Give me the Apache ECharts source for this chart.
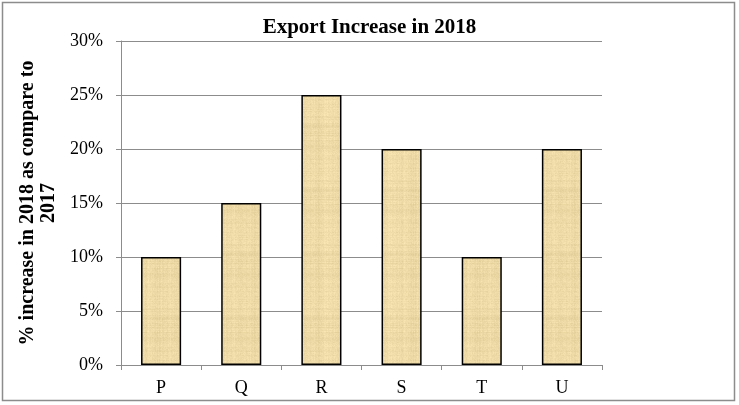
<!DOCTYPE html>
<html><head><meta charset="utf-8">
<script src="https://cdn.jsdelivr.net/npm/echarts@6/dist/echarts.min.js"></script>
<style>html,body{margin:0;padding:0;background:#fff}#c{width:739px;height:405px}</style>
</head><body><div id="c"></div>
<script>
const titleText = 'Export Increase in 2018';
const categories = ['P', 'Q', 'R', 'S', 'T', 'U'];
const values = [10, 15, 25, 20, 10, 20];
const yTicks = [0, 5, 10, 15, 20, 25, 30];
const yAxisName = '% increase in 2018 as compare to\n2017';

// parchment-like texture (deterministic)
function makeTexture() {
  const w = 64, h = 64;
  const cv = document.createElement('canvas');
  cv.width = w; cv.height = h;
  const ctx = cv.getContext('2d');
  const img = ctx.createImageData(w, h);
  function hash(x, y) {
    let n = x * 374761393 + y * 668265263;
    n = (n ^ (n >>> 13)) * 1274126177;
    n = n ^ (n >>> 16);
    return ((n >>> 0) % 1000) / 1000;
  }
  for (let y = 0; y < h; y++) {
    const rowV = hash(7, y) * 0.6 + hash(3, y >> 2) * 0.4;
    for (let x = 0; x < w; x++) {
      const colV = hash(x, 11) * 0.5 + hash(x >> 2, 5) * 0.5;
      const px = hash(x, y);
      const v = (rowV - 0.5) * 12 + (colV - 0.5) * 12 + (px - 0.5) * 10;
      const i = (y * w + x) * 4;
      img.data[i] = Math.max(0, Math.min(255, 237 + v));
      img.data[i + 1] = Math.max(0, Math.min(255, 217 + v));
      img.data[i + 2] = Math.max(0, Math.min(255, 165 + v * 1.1));
      img.data[i + 3] = 255;
    }
  }
  ctx.putImageData(img, 0, 0);
  return cv;
}

const serif = "'Liberation Serif', 'DejaVu Serif', serif";
const chart = echarts.init(document.getElementById('c'), null, { renderer: 'canvas' });
chart.setOption({
  animation: false,
  backgroundColor: '#fff',
  title: {
    text: titleText, left: 'center', top: 12,
    textStyle: { fontFamily: serif, fontWeight: 'bold', fontSize: 21, color: '#000' }
  },
  graphic: [{
    type: 'rect', shape: { x: 2.5, y: 2.5, width: 732, height: 398 },
    style: { fill: 'none', stroke: '#8c8c8c', lineWidth: 1.5 }, z: -1
  }],
  grid: { left: 121, right: 137, top: 41, bottom: 40 },
  xAxis: {
    type: 'category', data: categories,
    axisLine: { lineStyle: { color: '#8c8c8c', width: 1 } },
    axisTick: { show: true, length: 5, lineStyle: { color: '#8c8c8c' } },
    axisLabel: { fontFamily: serif, fontSize: 18, color: '#000', margin: 14 }
  },
  yAxis: {
    type: 'value', min: yTicks[0], max: yTicks[yTicks.length - 1], interval: 5,
    name: yAxisName, nameLocation: 'middle', nameGap: 56, nameRotate: 90,
    nameTextStyle: { fontFamily: serif, fontWeight: 'bold', fontSize: 20, color: '#000', lineHeight: 21, align: 'center' },
    axisLine: { show: true, lineStyle: { color: '#8c8c8c' } },
    axisTick: { show: true, length: 5, lineStyle: { color: '#8c8c8c' } },
    splitLine: { lineStyle: { color: '#8c8c8c', width: 1 } },
    axisLabel: { fontFamily: serif, fontSize: 18, color: '#000', margin: 18, formatter: v => v + '%' }
  },
  series: [{
    type: 'bar', data: values, barWidth: '50%',
    itemStyle: {
      color: { image: makeTexture(), repeat: 'repeat' },
      borderColor: '#000', borderWidth: 1.5
    }
  }]
});
</script></body></html>
